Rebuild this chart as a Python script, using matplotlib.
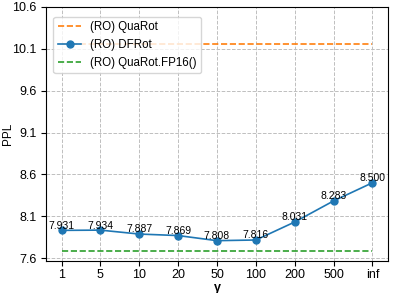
import matplotlib
matplotlib.use("Agg")
import matplotlib.pyplot as plt

plt.rcParams["font.family"] = ["Liberation Sans", "DejaVu Sans"]

gamma_labels = ["1", "5", "10", "20", "50", "100", "200", "500", "inf"]
dfrot_ppl = [7.931, 7.934, 7.887, 7.869, 7.808, 7.816, 8.031, 8.283, 8.500]
quarot_ppl = 10.16
fp16_ppl = 7.68
yticks = [7.6, 8.1, 8.6, 9.1, 9.6, 10.1, 10.6]

fig = plt.figure(figsize=(4.09, 2.93), dpi=100)
ax = fig.add_axes([46 / 409, 1 - 261 / 293, 342 / 409, 254 / 293])

x = list(range(len(gamma_labels)))
ax.plot(x, [quarot_ppl] * len(x), "--", color="#ff7f0e", lw=1.2, label="(RO) QuaRot")
ax.plot(x, dfrot_ppl, "-o", color="#1f77b4", lw=1.2, markersize=5, label="(RO) DFRot")
ax.plot(x, [fp16_ppl] * len(x), "--", color="#2ca02c", lw=1.2, label="(RO) QuaRot.FP16()")

# value labels sit right on top of the markers
for xi, v in zip(x, dfrot_ppl):
    ax.text(xi, v - 0.005, f"{v:.3f}", ha="center", va="bottom", fontsize=7.5)

ax.set_xticks(x)
ax.set_xticklabels(gamma_labels, fontsize=9)
ax.set_yticks(yticks)
ax.set_yticklabels([f"{t:.1f}" for t in yticks], fontsize=9)
ax.tick_params(axis="x", pad=2.5)
ax.set_xlim(-0.4, 8.4)
ax.set_ylim(7.565, 10.6)
ax.set_xlabel("γ", fontsize=9, fontweight="bold")
ax.xaxis.set_label_coords(0.5, -0.082)
ax.set_ylabel("PPL", fontsize=8.5)
ax.yaxis.set_label_coords(-0.093, 0.5)
ax.grid(True, linestyle="--", color="0.75", lw=0.7)
ax.legend(loc="upper left", fontsize=8.3, bbox_to_anchor=(0.005, 0.985))

fig.savefig("out.png", dpi=100)
